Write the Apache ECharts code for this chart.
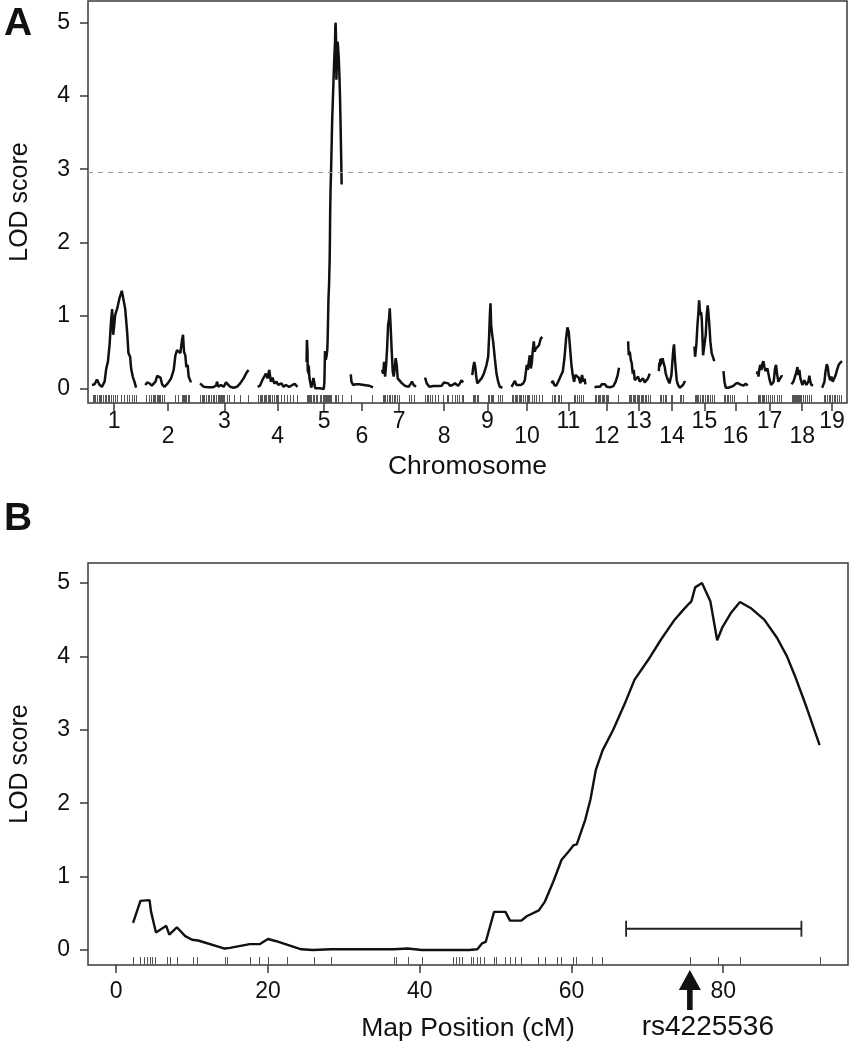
<!DOCTYPE html>
<html><head><meta charset="utf-8">
<script src="https://cdn.jsdelivr.net/npm/echarts@6/dist/echarts.min.js"></script>
<style>html,body{margin:0;padding:0;background:#fff}#c{width:868px;height:1050px}</style>
</head><body><div id="c"></div>
<script>
// ---------- DATA ----------
const chromNames = ['1','2','3','4','5','6','7','8','9','10','11','12','13','14','15','16','17','18','19'];
const lodThreshold = 2.96;

// LOD profiles: [position cM, LOD]
const lodChr1 = [[0,0.055],[6.8,0.064],[12.8,0.13],[19.7,0.055],[25.6,0.03],[32.5,0.10],[36.8,0.28],[41,0.37],[45.3,0.60],[49.6,0.96],[52.1,1.09],[54.7,0.74],[57.3,0.87],[59.8,1.01],[65,1.10],[70.9,1.24],[76.9,1.34],[80.3,1.32],[85.5,1.10],[90.6,0.78],[94,0.49],[98.3,0.44],[100.9,0.28],[105.1,0.17],[109.4,0.10],[113.7,0.02]];
const lodChr2 = [[0,0.055],[5.1,0.09],[11.1,0.077],[17.1,0.045],[22.2,0.055],[26.5,0.10],[30.8,0.18],[35,0.20],[39.3,0.155],[43.6,0.064],[49.6,0.03],[58.1,0.077],[66.7,0.145],[73.5,0.26],[77.8,0.46],[82.1,0.53],[86.3,0.55],[90.6,0.49],[94.9,0.67],[97.4,0.74],[100,0.51],[103.4,0.46],[106,0.30],[109.4,0.33],[112,0.17],[115.4,0.145],[118,0.09]];
const lodChr3 = [[0,0.077],[4.3,0.055],[9.4,0.03],[19.7,0.023],[32.5,0.023],[41,0.045],[43.6,0.10],[47,0.03],[53.8,0.055],[60.7,0.03],[66.7,0.09],[70.9,0.064],[77.8,0.03],[86.3,0.018],[94.9,0.03],[103.4,0.077],[112,0.145],[120.5,0.23],[124.8,0.26]];
const lodChr4 = [[0,0.03],[6,0.045],[12,0.12],[17.1,0.14],[21.4,0.21],[25.6,0.145],[29.9,0.26],[34.2,0.10],[38.5,0.155],[42.7,0.077],[48.7,0.10],[53,0.055],[55.6,0.03],[61.5,0.077],[66.7,0.03],[72.8,0.055],[81.3,0.03],[89.8,0.055],[95.8,0.07],[102.6,0.03]];
const lodChr5 = [[2.23,0.37],[3.2,0.67],[4.4,0.68],[4.6,0.52],[5.25,0.24],[6.6,0.33],[7.0,0.21],[8.0,0.31],[9.1,0.19],[10.0,0.14],[10.8,0.13],[14.3,0.02],[15.0,0.03],[17.6,0.08],[18.9,0.08],[20.0,0.15],[21.1,0.12],[24.4,0.01],[25.9,0.0],[28.3,0.01],[36.6,0.01],[38.4,0.02],[40.3,0.0],[46.5,0.0],[47.6,0.01],[48.2,0.09],[48.7,0.11],[49.8,0.52],[51.3,0.52],[51.9,0.40],[53.4,0.40],[54.1,0.46],[55.7,0.54],[56.5,0.66],[57.6,0.93],[58.7,1.23],[59.6,1.34],[60.3,1.43],[60.7,1.44],[61.8,1.77],[62.5,2.05],[63.2,2.45],[64.1,2.72],[65.5,3.0],[67.0,3.35],[68.3,3.68],[70.1,3.95],[71.8,4.23],[73.6,4.50],[74.7,4.63],[75.5,4.72],[75.8,4.75],[76.3,4.94],[77.2,5.0],[78.3,4.75],[79.2,4.22],[79.9,4.40],[81.0,4.59],[82.2,4.74],[83.6,4.66],[85.4,4.50],[87.1,4.25],[88.4,4.0],[89.5,3.72],[91.0,3.3],[92.7,2.79]];
const lodChr6 = [[0,0.20],[1.7,0.10],[6,0.055],[12.8,0.064],[21.4,0.064],[34.2,0.055],[47,0.045],[57.3,0.023]];
const lodChr7 = [[0,0.26],[2.6,0.21],[5.1,0.37],[7.7,0.17],[10.3,0.33],[12.8,0.55],[15.4,0.87],[17.9,0.96],[19.7,1.10],[22.2,0.83],[24.8,0.51],[27.4,0.24],[29.9,0.17],[32.5,0.28],[35,0.42],[37.6,0.33],[40.2,0.145],[44.4,0.12],[51.3,0.077],[59.8,0.04],[68.4,0.03],[72.6,0.064],[76.9,0.10],[81.2,0.055],[87.2,0.03]];
const lodChr8 = [[0,0.155],[4.3,0.077],[11.1,0.03],[21.4,0.04],[34.2,0.04],[42.7,0.045],[48.7,0.09],[53.8,0.11],[59.8,0.077],[64.1,0.045],[70.9,0.055],[76.9,0.077],[85.5,0.045],[89.7,0.077],[94,0.12],[98.2,0.09]];
const lodChr9 = [[0,0.19],[2.6,0.30],[5.1,0.37],[7.7,0.30],[10.3,0.17],[12.8,0.077],[17.9,0.10],[23.9,0.145],[29.9,0.21],[36.8,0.33],[41,0.44],[43.6,0.74],[45.3,1.01],[47,1.17],[48.7,0.87],[51.3,0.74],[53.8,0.65],[58.1,0.42],[62.4,0.21],[66.7,0.10],[70.9,0.03],[77.8,0.018]];
const lodChr10 = [[0,0.03],[4.3,0.055],[8.5,0.11],[12.8,0.055],[17.9,0.045],[23.9,0.055],[29.9,0.077],[34.2,0.12],[36.8,0.23],[39.3,0.33],[41.9,0.26],[44.4,0.37],[47,0.46],[49.6,0.28],[52.1,0.35],[54.7,0.53],[57.3,0.65],[59.8,0.51],[62.4,0.55],[66.7,0.53],[70.9,0.60],[75.2,0.69],[79.5,0.71]];
const lodChr11 = [[0,0.077],[3.4,0.11],[6.8,0.055],[12,0.045],[17.1,0.10],[23.1,0.17],[29.1,0.24],[33.3,0.42],[37.6,0.69],[41,0.84],[44.4,0.78],[47.9,0.55],[51.3,0.33],[54.7,0.19],[58.1,0.10],[61.5,0.19],[65.8,0.21],[70.1,0.155],[74.4,0.077],[78.6,0.19],[82,0.10],[85.5,0.14],[87.2,0.064]];
const lodChr12 = [[0,0.023],[6,0.03],[10.3,0.055],[14.5,0.03],[18.8,0.064],[23.1,0.055],[27.4,0.064],[31.6,0.03],[40.2,0.023],[48.7,0.04],[54.7,0.10],[59.8,0.19],[63.2,0.29]];
const lodChr13 = [[0,0.65],[1.7,0.46],[4.3,0.51],[6.8,0.40],[9.4,0.35],[12,0.21],[14.5,0.26],[17.1,0.12],[21.4,0.145],[25.6,0.17],[29.9,0.10],[34.2,0.077],[38.5,0.145],[42.7,0.09],[47,0.064],[51.3,0.145],[55.6,0.21]];
const lodChr14 = [[0,0.245],[1.5,0.36],[2.6,0.30],[4,0.41],[5.1,0.33],[6.5,0.42],[8.5,0.38],[10,0.42],[12,0.36],[15.4,0.30],[17.9,0.21],[20.5,0.17],[23.9,0.12],[27.4,0.077],[29.9,0.055],[32.5,0.19],[35,0.37],[37.6,0.55],[39.3,0.61],[41,0.46],[43.6,0.28],[46.2,0.12],[49.6,0.055],[53.8,0.018],[58.1,0.018],[62.4,0.055],[66.7,0.10],[68.4,0.09]];
const lodChr15 = [[0,0.58],[1.7,0.44],[3.4,0.42],[5.1,0.62],[7.7,0.87],[10.3,1.05],[12,1.21],[13.7,1.10],[15.4,1.01],[17.1,1.05],[18.8,0.96],[20.5,0.74],[22.2,0.46],[25.6,0.45],[27.4,0.45],[29.1,0.74],[31.6,1.01],[34.2,1.14],[35.9,1.05],[38.5,0.87],[41,0.65],[44.4,0.49],[48.7,0.42],[51.3,0.38]];
const lodChr16 = [[0,0.245],[2.6,0.10],[6,0.018],[12.8,0.018],[19.7,0.03],[23.1,0.055],[26.5,0.045],[31.6,0.073],[36.8,0.082],[42.7,0.064],[51.3,0.045],[57.3,0.073],[62.4,0.045]];
const lodChr17 = [[0,0.20],[2.6,0.24],[4.3,0.17],[6.8,0.28],[9.4,0.33],[12,0.26],[14.5,0.35],[17.1,0.38],[19.7,0.30],[22.2,0.245],[24.8,0.23],[27.4,0.28],[29.9,0.21],[33.3,0.12],[36.8,0.055],[40.2,0.045],[43.6,0.10],[47,0.28],[49.6,0.33],[52.1,0.21],[55.6,0.10],[59.8,0.14],[64.1,0.18],[65.8,0.17]];
const lodChr18 = [[0,0.064],[2.6,0.055],[5.1,0.10],[7.7,0.145],[10.3,0.19],[12.8,0.23],[15.4,0.30],[17.9,0.19],[20.5,0.26],[23.1,0.145],[25.6,0.10],[28.2,0.055],[30.8,0.077],[33.3,0.12],[35.9,0.10],[38.5,0.055],[41,0.045],[43.6,0.10],[46.2,0.18],[48.7,0.10],[51.3,0.055],[53.8,0.064],[55.6,0.045]];
const lodChr19 = [[0,0.018],[3.4,0.018],[6,0.10],[8.5,0.23],[12,0.34],[14.5,0.30],[17.1,0.19],[20.5,0.12],[23.9,0.17],[27.4,0.10],[30.8,0.12],[34.2,0.18],[38.5,0.26],[42.7,0.33],[47,0.36],[51.3,0.38]];

// Marker positions (cM) per chromosome
const mkChr1 = [2.6,5.1,8.5,12.8,17.1,19.7,23.9,28.2,32.5,36.8,41,43.6,47.9,53.8,58.1,65,75.2,83.8,90.6,96.6,102.6,109.4,113.7];
const mkChr2 = [2.6,8.5,13.7,19.7,23.9,26.5,29.9,32.5,35,38.5,42.7,49.6,76.9,83.8,94,96.6,99.1,102.6,106,109.4,113.7];
const mkChr3 = [0.9,4.3,7.7,11.1,16.2,19.7,23.9,28.2,32.5,36.8,41,45.3,47.9,50.4,53.8,56.4,59,62.4,69.2,75.2,88,103.4,122.2];
const mkChr4 = [1.7,5.1,8.5,12,15.4,18.8,22.2,25.6,29.1,32.5,35.9,41,47.2,50.4,53,60,68.4,76.9,83.8,92.3,101];
const mkChr5 = [2.23,3.2,3.63,4.07,4.51,4.73,5.16,6.69,7.04,8.0,10.19,10.63,14.34,14.65,17.63,18.85,20.03,22.52,26.02,28.33,36.64,36.94,38.52,40.26,44.42,44.72,45.16,45.6,46.82,47.0,47.57,48.0,48.45,49.76,50.1,51.28,51.94,52.6,53.38,55.57,56.52,58.06,58.62,60.16,60.55,62.65,63.96,75.67,79.27,82.23,92.72];
const mkChr6 = [1.7,55.6];
const mkChr7 = [1.7,5.1,8.5,12.8,17.1,21.4,25.6,29.9,34.2,38.5,42.7,68.4,75.2,81.2];
const mkChr8 = [0,4.3,8.5,12.8,18.8,25.6,34.2,47,55.6,59.8,68.4,76.9,82.9,88,94,98.2];
const mkChr9 = [2.6,5.1,7.7,11.1,15.4,41,43.6,47,50.4,53.8,66.7,70.9,76.1];
const mkChr10 = [0.9,4.3,7.7,11.1,14.5,17.9,21.4,24.8,28.2,35,38.5,41.9,45.3,52.1,58.1,64.1,70.9,77.8];
const mkChr11 = [1.7,5.1,8.5,17.1,20.5,23.9,57.3,61.5,66.7,71.8,76.9,82];
const mkChr12 = [1.7,5.1,8.5,12,15.4,18.8,22.2,25.6,29.1,32.5,35.9,61.5];
const mkChr13 = [1.7,5.1,8.5,12,15.4,18.8,22.2,25.6,29.1,32.5,35.9,39.3,42.7,47,51.3,55.6];
const mkChr14 = [2.6,6.8,11.1,15.4,19.7,30.8,34.2,53.8,58.1,62.4];
const mkChr15 = [1.7,4.3,6.8,10.3,14.5,18.8,23.1,27.4,31.6,35.9,40.2,44.4,49.6];
const mkChr16 = [1.7,5.1,8.5,12.8,17.1,21.4,28.2,59.8];
const mkChr17 = [2.6,6,9.4,12.8,16.2,19.7,23.1,28.2,34.2,40.2,45.3,51.3,57.3,62.4];
const mkChr18 = [1.7,4.3,6.8,9.4,12,14.5,17.1,19.7,22.2,24.8,29.1,34.2,40.2,46.2,51.3];
const mkChr19 = [4.3,8.5,12.8,17.1,21.4,25.6,29.9,34.2,38.5,44.4,49.6];

// Panel B annotations
const mapTicks = [0, 20, 40, 60, 80];
const lodTicks = [0, 1, 2, 3, 4, 5];
const ciInterval = [67.2, 90.3];
const ciLevel = 0.29;
const peakMarkerName = 'rs4225536';
const peakMarkerPos = 75.6;

// ---------- BUILD ----------
const chromScans = [lodChr1,lodChr2,lodChr3,lodChr4,lodChr5,lodChr6,lodChr7,lodChr8,lodChr9,lodChr10,lodChr11,lodChr12,lodChr13,lodChr14,lodChr15,lodChr16,lodChr17,lodChr18,lodChr19];
const chromMarkers = [mkChr1,mkChr2,mkChr3,mkChr4,mkChr5,mkChr6,mkChr7,mkChr8,mkChr9,mkChr10,mkChr11,mkChr12,mkChr13,mkChr14,mkChr15,mkChr16,mkChr17,mkChr18,mkChr19];
const GAP = 23.5;
const FONT = "'Liberation Sans', Arial, Helvetica, sans-serif";
const INK = '#111';
const FRAME = '#3a3a3a';

const shifts = [], mids = [];
let cum = 0;
chromScans.forEach(d => {
  const lo = d[0][0], hi = d[d.length - 1][0];
  shifts.push(cum - lo);
  mids.push(cum + (hi - lo) / 2);
  cum += (hi - lo) + GAP;
});
const oddMids = mids.filter((m, i) => i % 2 === 0);
const evenMids = mids.filter((m, i) => i % 2 === 1);
function chromLabel(v) {
  let best = 0, bd = Infinity;
  mids.forEach((m, i) => { const d = Math.abs(m - v); if (d < bd) { bd = d; best = i; } });
  return chromNames[best];
}

const Y_MIN_A = -0.191, Y_MAX_A = 5.296;
const X_MIN_A = -10.26, X_MAX_A = 1946.2;
const Y_MIN_B = -0.204, Y_MAX_B = 5.272;
const X_MIN_B = -3.71, X_MAX_B = 96.44;

function rugRender(yMin) {
  return function (params, api) {
    const p = api.coord([api.value(0), yMin]);
    const x = Math.round(p[0]) + 0.5;
    return { type: 'line', silent: true, shape: { x1: x, y1: p[1], x2: x, y2: p[1] - 8 }, style: { stroke: '#555', lineWidth: 1 } };
  };
}

const series = [];
chromScans.forEach((d, i) => {
  const s = {
    type: 'line', xAxisIndex: 0, yAxisIndex: 0, showSymbol: false, silent: true,
    data: d.map(p => [p[0] + shifts[i], p[1]]),
    lineStyle: { color: INK, width: 2.5 }, z: 3
  };
  if (i === 0) {
    s.markLine = { silent: true, symbol: 'none', label: { show: false },
      lineStyle: { color: '#9a9a9a', type: [5, 5], width: 1.2 },
      data: [{ yAxis: lodThreshold }] };
  }
  series.push(s);
});
const rugA = [];
chromMarkers.forEach((mk, i) => mk.forEach(m => rugA.push([m + shifts[i], 0])));
series.push({ type: 'custom', coordinateSystem: 'cartesian2d', xAxisIndex: 0, yAxisIndex: 0, silent: true,
  data: rugA, renderItem: rugRender(Y_MIN_A), z: 2 });

// Panel B
series.push({ type: 'line', xAxisIndex: 2, yAxisIndex: 1, showSymbol: false, silent: true,
  data: lodChr5, lineStyle: { color: INK, width: 2.4 }, z: 3 });
series.push({ type: 'custom', coordinateSystem: 'cartesian2d', xAxisIndex: 2, yAxisIndex: 1, silent: true,
  data: mkChr5.map(m => [m, 0]), renderItem: rugRender(Y_MIN_B), z: 2 });
series.push({ type: 'custom', coordinateSystem: 'cartesian2d', xAxisIndex: 2, yAxisIndex: 1, silent: true,
  data: [[ciInterval[0], ciLevel, ciInterval[1]]],
  encode: { x: [0, 2], y: 1 },
  renderItem: function (params, api) {
    const a = api.coord([api.value(0), api.value(1)]);
    const b = api.coord([api.value(2), api.value(1)]);
    const st = { stroke: '#222', lineWidth: 1.8 };
    return { type: 'group', children: [
      { type: 'line', shape: { x1: a[0], y1: a[1], x2: b[0], y2: b[1] }, style: st },
      { type: 'line', shape: { x1: a[0], y1: a[1] - 8, x2: a[0], y2: a[1] + 8 }, style: st },
      { type: 'line', shape: { x1: b[0], y1: b[1] - 8, x2: b[0], y2: b[1] + 8 }, style: st }
    ] };
  } });
series.push({ type: 'custom', coordinateSystem: 'cartesian2d', xAxisIndex: 2, yAxisIndex: 1, silent: true,
  data: [[peakMarkerPos, 0]],
  renderItem: function (params, api) {
    const p = api.coord([api.value(0), Y_MIN_B]);
    const x = p[0], y0 = p[1];
    return { type: 'group', children: [
      { type: 'polygon', shape: { points: [[x, y0 + 5], [x - 11, y0 + 25], [x + 11, y0 + 25]] }, style: { fill: INK } },
      { type: 'rect', shape: { x: x - 2.8, y: y0 + 24, width: 5.6, height: 21 }, style: { fill: INK } },
      { type: 'text', style: { text: peakMarkerName, x: x + 18, y: y0 + 62, fill: INK, fontSize: 28, fontFamily: FONT, align: 'center', verticalAlign: 'middle' } }
    ] };
  } });

const tickStyle = { color: FRAME, width: 1.5 };
const hiddenLine = { show: false, onZero: false };
const option = {
  animation: false,
  backgroundColor: '#fff',
  textStyle: { fontFamily: FONT },
  grid: [
    { left: 84, top: 1, width: 763, height: 402, show: true, borderColor: FRAME, borderWidth: 1.5, backgroundColor: 'transparent' },
    { left: 84, top: 563, width: 764, height: 402, show: true, borderColor: FRAME, borderWidth: 1.5, backgroundColor: 'transparent' }
  ],
  xAxis: [
    { gridIndex: 0, type: 'value', position: 'bottom', min: X_MIN_A, max: X_MAX_A,
      axisLine: hiddenLine, splitLine: { show: false },
      axisTick: { customValues: mids, length: 8, lineStyle: tickStyle },
      axisLabel: { customValues: oddMids, formatter: chromLabel, margin: 7, fontSize: 23, color: INK, fontFamily: FONT },
      name: 'Chromosome', nameLocation: 'middle', nameGap: 50,
      nameTextStyle: { fontSize: 26.5, color: INK, fontFamily: FONT } },
    { gridIndex: 0, type: 'value', position: 'bottom', offset: 0, min: X_MIN_A, max: X_MAX_A,
      axisLine: hiddenLine, splitLine: { show: false }, axisTick: { show: false },
      axisLabel: { customValues: evenMids, formatter: chromLabel, margin: 22, fontSize: 23, color: INK, fontFamily: FONT } },
    { gridIndex: 1, type: 'value', position: 'bottom', min: X_MIN_B, max: X_MAX_B,
      axisLine: hiddenLine, splitLine: { show: false },
      axisTick: { customValues: mapTicks, length: 8, lineStyle: tickStyle },
      axisLabel: { customValues: mapTicks, margin: 15, fontSize: 23, color: INK, fontFamily: FONT },
      name: 'Map Position (cM)', nameLocation: 'middle', nameGap: 50,
      nameTextStyle: { fontSize: 26.5, color: INK, fontFamily: FONT } }
  ],
  yAxis: [
    { gridIndex: 0, type: 'value', position: 'left', min: Y_MIN_A, max: Y_MAX_A,
      axisLine: hiddenLine, splitLine: { show: false },
      axisTick: { customValues: lodTicks, length: 8, lineStyle: tickStyle },
      axisLabel: { customValues: lodTicks, margin: 18, fontSize: 23, color: INK, fontFamily: FONT },
      name: 'LOD score', nameLocation: 'middle', nameGap: 55,
      nameTextStyle: { fontSize: 25, color: INK, fontFamily: FONT } },
    { gridIndex: 1, type: 'value', position: 'left', min: Y_MIN_B, max: Y_MAX_B,
      axisLine: hiddenLine, splitLine: { show: false },
      axisTick: { customValues: lodTicks, length: 8, lineStyle: tickStyle },
      axisLabel: { customValues: lodTicks, margin: 18, fontSize: 23, color: INK, fontFamily: FONT },
      name: 'LOD score', nameLocation: 'middle', nameGap: 55,
      nameTextStyle: { fontSize: 25, color: INK, fontFamily: FONT } }
  ],
  graphic: [
    { type: 'text', left: 4, top: 5, style: { text: 'A', fill: INK, font: 'bold 39px ' + FONT } },
    { type: 'text', left: 4, top: 500, style: { text: 'B', fill: INK, font: 'bold 39px ' + FONT } }
  ],
  series: series
};
const chart = echarts.init(document.getElementById('c'), null, { renderer: 'canvas' });
chart.setOption(option);
</script>
</body></html>
